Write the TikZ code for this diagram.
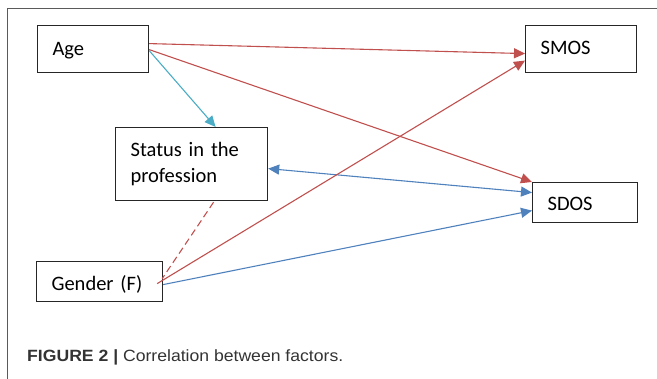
\documentclass[tikz,border=0pt]{standalone}
\usepackage{fontspec}
\setmainfont{Carlito}
\newfontfamily\capfont{Liberation Sans}
\usetikzlibrary{arrows.meta,calc}
\definecolor{cred}{HTML}{C0504D}
\definecolor{cblue}{HTML}{4F81BD}
\definecolor{ccyan}{HTML}{4BACC6}
\definecolor{frame}{HTML}{5A5A5A}
\definecolor{captxt}{HTML}{333333}
\tikzset{
  box/.style={draw=black!85, line width=1.2pt, anchor=north west, inner ysep=0pt,
    align=left, font=\fontsize{20.5}{26.7}\selectfont},
  bl/.style={text height=#1, text depth=0pt},
  tip/.style={-{Triangle[length=11pt,width=10pt]}},
  redline/.style={cred, line width=1.1pt},
  blueline/.style={cblue, line width=1.1pt},
  cyanline/.style={ccyan, line width=1.1pt},
}
\begin{document}
\begin{tikzpicture}[x=1pt,y=-1pt]
\useasboundingbox (0,0) rectangle (657,379);
\draw[frame, line width=1.2pt] (7.5,379) -- (7.5,8.5) -- (657,8.5);
\node[box, bl=13pt, minimum width=111, minimum height=47, inner xsep=15pt, text width=81pt] (age) at (37,25) {Age};
\node[box, bl=11pt, minimum width=111, minimum height=47, inner xsep=15pt, text width=81pt] (smos) at (525,25) {SMOS};
\node[box, minimum width=152, minimum height=73, inner xsep=15pt, text width=122pt] (status) at (115,127) {Status in the\\profession};
\node[box, bl=16pt, minimum width=105, minimum height=40, inner xsep=15pt, text width=75pt] (sdos) at (532,182) {SDOS};
\node[box, bl=18pt, minimum width=126, minimum height=40, inner xsep=15pt, text width=96pt] (gender) at (36,261) {Gender (F)};
% connectors
\draw[redline, tip] ([yshift=5.5pt]age.east) -- ([yshift=-4.5pt]smos.west);
\draw[redline, tip] ([yshift=-0.5pt]age.east) -- (sdos.north west);
\draw[cyanline, tip] ([yshift=-1.5pt]age.east) -- ([xshift=24pt]status.north);
\draw[blueline, {Triangle[length=11pt,width=10pt]}-{Triangle[length=11pt,width=10pt]}] ([yshift=-4.5pt]status.east) -- ([yshift=10pt]sdos.west);
\draw[redline, dash pattern=on 7pt off 4pt] ([xshift=22pt,yshift=-1pt]status.south) -- ([xshift=-1pt,yshift=3pt]gender.east);
\draw[redline, tip] ([xshift=-6pt,yshift=-2pt]gender.east) -- ([yshift=-11.5pt]smos.west);
\draw[blueline, tip] ([yshift=-3pt]gender.east) -- ([yshift=-8pt]sdos.west);
% caption
\node[anchor=base west, inner sep=0pt, text=captxt, font=\capfont\fontsize{16.3}{19}\selectfont] (cap) at (27,362) {\scalebox{1.08}[1]{\textbf{FIGURE 2 |} Correlation between factors.}};
\end{tikzpicture}
\end{document}
